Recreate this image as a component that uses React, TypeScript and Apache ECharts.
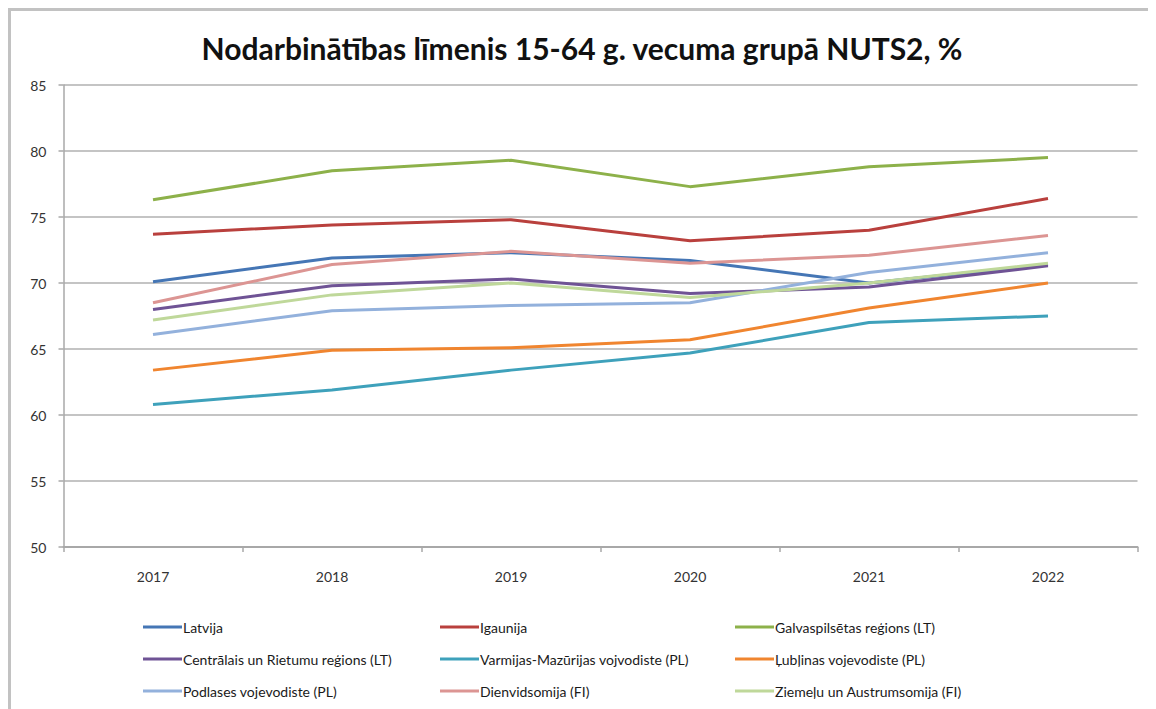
import React, { useEffect, useRef } from "react";
import * as echarts from "echarts";

const years = ["2017", "2018", "2019", "2020", "2021", "2022"];

const seriesNames = [
  "Latvija",
  "Igaunija",
  "Galvaspilsētas reģions (LT)",
  "Centrālais un Rietumu reģions (LT)",
  "Varmijas-Mazūrijas vojvodiste (PL)",
  "Ļubļinas vojevodiste (PL)",
  "Podlases vojevodiste (PL)",
  "Dienvidsomija (FI)",
  "Ziemeļu un Austrumsomija (FI)",
];

const latvija = [70.1, 71.9, 72.3, 71.7, 70.0, 71.4];
const igaunija = [73.7, 74.4, 74.8, 73.2, 74.0, 76.4];
const galvaspilsetas = [76.3, 78.5, 79.3, 77.3, 78.8, 79.5];
const centralais = [68.0, 69.8, 70.3, 69.2, 69.7, 71.3];
const varmijas = [60.8, 61.9, 63.4, 64.7, 67.0, 67.5];
const lublinas = [63.4, 64.9, 65.1, 65.7, 68.1, 70.0];
const podlases = [66.1, 67.9, 68.3, 68.5, 70.8, 72.3];
const dienvidsomija = [68.5, 71.4, 72.4, 71.5, 72.1, 73.6];
const ziemelu = [67.2, 69.1, 70.0, 68.9, 70.0, 71.5];

const seriesValues = [
  latvija,
  igaunija,
  galvaspilsetas,
  centralais,
  varmijas,
  lublinas,
  podlases,
  dienvidsomija,
  ziemelu,
];

const colors = [
  "#4576b5",
  "#b9403d",
  "#8db14a",
  "#6f5395",
  "#3ea1bb",
  "#f0852f",
  "#93b1dc",
  "#dc9593",
  "#bfd89a",
];

const yTicks = { min: 50, max: 85, interval: 5 };

export default function App() {
  const ref = useRef<HTMLDivElement>(null);

  useEffect(() => {
    if (!ref.current) return;
    const chart = echarts.init(ref.current, undefined, { renderer: "svg" });
    const font = "Lato, 'Open Sans', sans-serif";

    const legendCols = [0, 1, 2].map((c) => ({
      orient: "vertical" as const,
      left: [135, 432, 727][c],
      top: 612,
      padding: 0,
      itemWidth: 39,
      itemHeight: 14,
      itemGap: 18,
      icon: "path://M0,5.5 L40,5.5 L40,8.5 L0,8.5 Z",
      data: [0, 1, 2].map((r) => ({
        name: seriesNames[r * 3 + c],
        itemStyle: { color: colors[r * 3 + c] },
      })),
      textStyle: {
        fontFamily: font,
        fontSize: 14,
        color: "#1a1a1a",
        padding: [0, 0, 0, -4],
      },
      selectedMode: false,
    }));

    chart.setOption({
      animation: false,
      backgroundColor: "#ffffff",
      title: {
        text: "Nodarbinātības līmenis 15-64 g. vecuma grupā NUTS2, %",
        left: "center",
        top: 20,
        textStyle: {
          fontFamily: font,
          fontSize: 30,
          fontWeight: 700,
          color: "#111",
        },
      },
      graphic: [
        {
          type: "line",
          shape: { x1: 1.5, y1: 0, x2: 1.5, y2: 701 },
          style: { stroke: "#c2c2c2", lineWidth: 3 },
        },
        {
          type: "line",
          shape: { x1: 0, y1: 1.5, x2: 1148, y2: 1.5 },
          style: { stroke: "#c2c2c2", lineWidth: 3 },
        },
        {
          type: "line",
          shape: { x1: 1147.5, y1: 0, x2: 1147.5, y2: 701 },
          style: { stroke: "#ececec", lineWidth: 1 },
        },
      ],
      legend: legendCols,
      grid: { left: 55.5, right: 18.5, top: 77, bottom: 162 },
      xAxis: {
        type: "category",
        data: years,
        boundaryGap: true,
        axisLine: { lineStyle: { color: "#a8a8a8", width: 2 } },
        axisTick: { show: true, length: 5, lineStyle: { color: "#a8a8a8", width: 1.5 } },
        axisLabel: {
          margin: 22,
          fontFamily: font,
          fontSize: 14,
          color: "#333",
        },
        splitLine: { show: false },
      },
      yAxis: {
        type: "value",
        min: yTicks.min,
        max: yTicks.max,
        interval: yTicks.interval,
        axisLine: { show: true, lineStyle: { color: "#a8a8a8", width: 1.5 } },
        axisTick: { show: true, length: 5, lineStyle: { color: "#a8a8a8", width: 1.5 } },
        axisLabel: {
          margin: 17,
          fontFamily: font,
          fontSize: 14,
          color: "#333",
        },
        splitLine: { show: true, lineStyle: { color: "#b0b0b0", width: 1.5 } },
      },
      series: seriesNames.map((name, i) => ({
        name,
        type: "line",
        data: seriesValues[i],
        symbol: "none",
        showSymbol: false,
        lineStyle: { color: colors[i], width: 3 },
        itemStyle: { color: colors[i] },
        z: 2 + i,
      })),
    });

    return () => chart.dispose();
  }, []);

  return <div ref={ref} style={{ width: 1148, height: 701 }} />;
}
